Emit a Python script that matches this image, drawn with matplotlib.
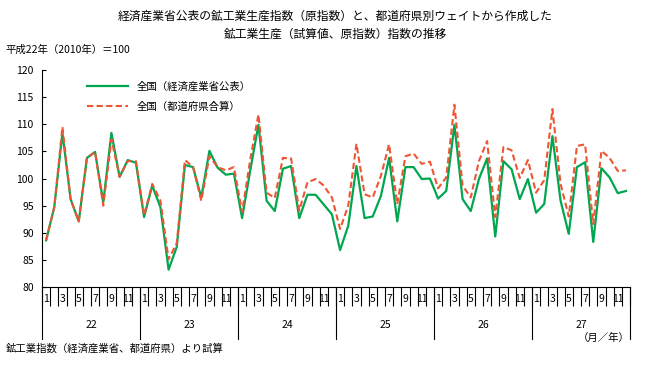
import matplotlib
matplotlib.use("Agg")
import matplotlib.pyplot as plt
import numpy as np

plt.rcParams['font.family'] = ['Noto Sans CJK JP', 'DejaVu Sans']

# 平成22年～27年の月次データ（72か月）
years = ["22", "23", "24", "25", "26", "27"]
month_labels = ["1", "", "3", "", "5", "", "7", "", "9", "", "11", ""]

# 全国（経済産業省公表）
meti = [
    88.6, 94.7, 108.4, 96.2, 92.1, 103.8, 104.9, 95.6, 108.4, 100.3, 103.4, 102.9,
    92.9, 98.7, 94.7, 83.2, 87.4, 102.5, 102.1, 96.5, 105.1, 102.0, 100.7, 100.9,
    92.7, 101.5, 109.9, 95.9, 94.0, 101.8, 102.3, 92.7, 97.0, 97.0, 95.2, 93.4,
    86.8, 91.3, 102.3, 92.7, 93.0, 96.8, 103.8, 92.1, 102.1, 102.1, 99.9, 100.0,
    96.3, 97.7, 109.9, 96.2, 94.0, 99.9, 103.7, 89.3, 103.2, 101.7, 96.2, 99.9,
    93.7, 95.3, 107.8, 95.9, 89.8, 102.1, 103.0, 88.3, 101.9, 100.2, 97.3, 97.7,
]
# 全国（都道府県合算）
pref = [
    88.6, 94.7, 109.5, 96.2, 92.1, 103.8, 104.9, 95.0, 107.2, 100.3, 103.2, 103.2,
    93.2, 99.0, 95.9, 85.1, 88.1, 103.4, 102.1, 95.9, 104.1, 102.1, 101.5, 102.1,
    93.8, 103.5, 111.8, 97.4, 96.4, 103.8, 103.7, 94.1, 99.3, 99.9, 98.7, 96.5,
    90.7, 95.0, 106.4, 97.1, 96.5, 100.5, 106.3, 95.3, 104.1, 104.6, 102.7, 103.1,
    98.2, 100.2, 113.6, 98.7, 96.5, 103.2, 106.9, 92.9, 105.8, 105.2, 100.1, 103.4,
    97.4, 99.7, 112.8, 99.0, 93.0, 106.0, 106.3, 91.6, 105.1, 103.8, 101.4, 101.5,
]

x = np.arange(len(meti))

fig = plt.figure(figsize=(6.7, 3.65), dpi=100)
ax = fig.add_axes([0.0627, 0.2137, 0.8776, 0.5945])

ax.plot(x, meti, color="#00A650", lw=1.6, label="全国（経済産業省公表）")
ax.plot(x, pref, color="#EE5533", lw=1.5, ls=(0, (3, 1.6)), label="全国（都道府県合算）")

ax.set_xlim(-0.5, len(x) - 0.5)
ax.set_ylim(80, 120)
ax.set_yticks(np.arange(80, 121, 5))
ax.tick_params(axis="y", direction="in", length=3, labelsize=7.5, pad=6)

for s in ["top", "right"]:
    ax.spines[s].set_visible(False)

# month boundary ticks (major) and month labels (minor)
ax.set_xticks(np.arange(-0.5, len(x), 1))
ax.set_xticklabels([])
ax.tick_params(axis="x", which="major", direction="out", length=14, width=0.8)
ax.set_xticks(x, minor=True)
ax.set_xticklabels(month_labels * len(years), minor=True)
ax.tick_params(axis="x", which="minor", length=0, labelsize=7.5, pad=5)

# year separators and year labels
trans = ax.get_xaxis_transform()
for i, yr in enumerate(years):
    ax.plot([i * 12 - 0.5, i * 12 - 0.5], [0, -0.24], color="black", lw=0.8,
            transform=trans, clip_on=False)
    ax.text(i * 12 + 5.5, -0.175, yr, transform=trans, ha="center", va="center",
            fontsize=7.5)
ax.plot([len(x) - 0.5, len(x) - 0.5], [0, -0.24], color="black", lw=0.8,
        transform=trans, clip_on=False)

ax.legend(loc="upper left", bbox_to_anchor=(0.06, 0.99), frameon=False,
          fontsize=7.5, handlelength=4, labelspacing=0.9)

fig.text(0.5, 0.955, "経済産業省公表の鉱工業生産指数（原指数）と、都道府県別ウェイトから作成した",
         ha="center", va="center", fontsize=8.5)
fig.text(0.5, 0.905, "鉱工業生産（試算値、原指数）指数の推移",
         ha="center", va="center", fontsize=8.5)
fig.text(0.008, 0.865, "平成22年（2010年）＝100", ha="left", va="center", fontsize=7.5)
fig.text(0.94, 0.075, "（月／年）", ha="right", va="center", fontsize=7.5)
fig.text(0.008, 0.045, "鉱工業指数（経済産業省、都道府県）より試算", ha="left", va="center",
         fontsize=7.5)

fig.savefig("out.png", dpi=100)
